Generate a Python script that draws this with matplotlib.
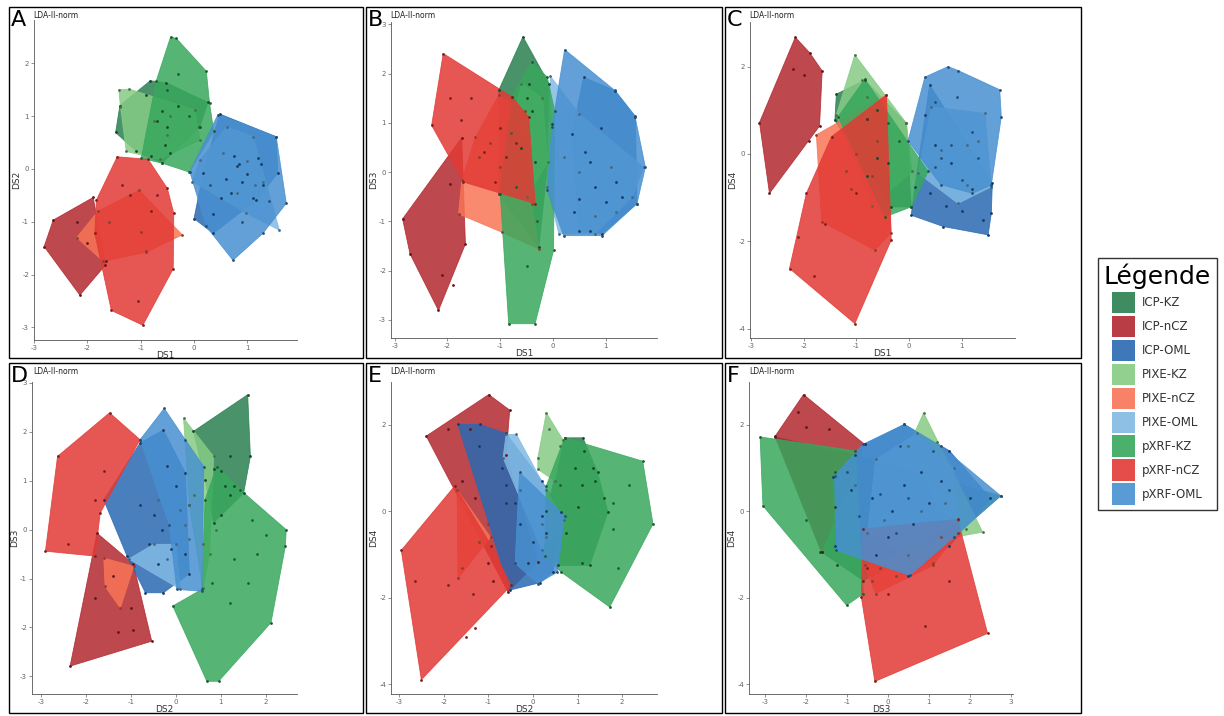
import matplotlib
matplotlib.use("Agg")
import matplotlib.pyplot as plt
from matplotlib.patches import Polygon, Rectangle, Patch
import numpy as np

plt.rcParams['font.family'] = ['DejaVu Sans']
plt.rcParams['axes.unicode_minus'] = False

W, H = 1224, 716

# =====================
# groups / colours
# =====================
groups = ["ICP-KZ", "ICP-nCZ", "ICP-OML", "PIXE-KZ", "PIXE-nCZ", "PIXE-OML",
          "pXRF-KZ", "pXRF-nCZ", "pXRF-OML"]
colors = ["#2A8050", "#B2282F", "#2A69B2", "#86CB84", "#F87456", "#82BAE4",
          "#38A85D", "#E23A35", "#4790D0"]

# =====================
# hull vertices
# =====================
hull_A = {
    "ICP-KZ": [(-0.82, 1.67), (-0.52, 1.63), (0.26, 1.26), (0.11, 0.80), (-0.6, 0.11), (-1.08, 0.33), (-1.47, 0.69), (-1.39, 1.2)],
    "ICP-nCZ": [(-2.81, -1.47), (-2.64, -0.97), (-1.89, -0.54), (-1.66, -1.82), (-2.14, -2.39)],
    "ICP-OML": [(0.48, 1.04), (1.54, 0.61), (1.57, -0.08), (1.17, -0.59), (0.36, -1.22), (0.0, -0.94), (0.17, -0.08)],
    "PIXE-KZ": [(-1.41, 1.5), (-1.21, 1.51), (0.01, 1.12), (0.11, 0.55), (-0.64, 0.18), (-1.27, 0.33), (-1.38, 1.18)],
    "PIXE-nCZ": [(-1.03, -0.40), (-0.22, -1.25), (-0.9, -1.58), (-1.7, -1.75), (-2.2, -1.3), (-1.8, -0.8)],
    "PIXE-OML": [(0.61, 0.8), (1.11, 0.61), (1.6, -1.16), (0.98, -0.84), (-0.03, -0.24), (0.11, 0.17)],
    "pXRF-KZ": [(-0.44, 2.5), (-0.33, 2.47), (0.23, 1.85), (0.29, 1.25), (0.37, 0.71), (-0.09, -0.06), (-0.6, 0.11), (-0.99, 0.2), (-0.71, 1.66)],
    "pXRF-nCZ": [(-1.44, 0.23), (-0.86, 0.18), (-0.5, -0.37), (-0.38, -0.84), (-0.39, -1.89), (-0.96, -2.96), (-1.55, -2.68), (-1.86, -1.22), (-1.83, -0.59)],
    "pXRF-OML": [(0.45, 1.03), (1.54, 0.61), (1.73, -0.65), (1.29, -1.22), (0.73, -1.73), (0.23, -1.09), (-0.08, -0.05)],
}
pts_A = {
    "ICP-KZ": [(-0.9, 1.4), (-0.6, 1.1), (-0.5, 0.8), (-0.7, 0.9), (-0.3, 1.2), (-0.55, 0.45), (-0.45, 0.3), (-0.8, 0.25)],
    "ICP-nCZ": [(-2.2, -1.0), (-2.0, -1.4), (-1.65, -1.75)],
    "ICP-OML": [(0.75, 0.25), (0.85, 0.1), (1.0, -0.1), (0.6, -0.2), (1.2, 0.2), (0.9, -0.25), (1.3, -0.3), (0.5, -0.55), (0.35, -0.85), (0.7, -0.45), (1.1, -0.55), (0.8, 0.05), (1.25, 0.1)],
    "PIXE-KZ": [(-0.45, 1.0), (-0.5, 0.65), (-0.75, 0.9)],
    "PIXE-nCZ": [(-1.0, -1.2), (-0.9, -1.55), (-1.6, -1.0)],
    "PIXE-OML": [(1.0, 0.15), (0.55, 0.3), (1.15, -0.3), (0.8, -0.45), (1.3, -0.25)],
    "pXRF-KZ": [(-0.3, 1.8), (-0.5, 1.5), (-0.1, 1.0), (0.1, 0.8)],
    "pXRF-nCZ": [(-1.35, -0.3), (-1.2, -0.5), (-0.8, -0.8), (-1.05, -2.5), (-0.7, -0.5)],
    "pXRF-OML": [(0.3, -0.3), (1.4, -0.6), (0.9, -1.0)],
}

hull_B = {
    "ICP-KZ": [(-0.57, 2.75), (-0.08, 1.8), (-0.02, 0.98), (-0.27, -1.53), (-1.03, -0.44), (-1.03, 1.66)],
    "ICP-nCZ": [(-2.85, -0.95), (-1.73, 0.70), (-1.66, -1.46), (-2.17, -2.81), (-2.71, -1.66)],
    "ICP-OML": [(0.58, 1.93), (1.18, 1.65), (1.56, 1.12), (1.59, -0.64), (0.93, -1.25), (0.49, -1.19), (0.36, 0.78)],
    "PIXE-KZ": [(-0.6, 1.8), (-0.2, 1.5), (-0.1, 0.2), (-0.5, -0.5), (-0.8, 0.8)],
    "PIXE-nCZ": [(-1.03, 1.56), (-0.53, 1.25), (-0.4, -0.64), (-0.27, -1.56), (-0.97, -1.22), (-1.79, -0.85), (-1.73, -0.17), (-1.47, 0.71)],
    "PIXE-OML": [(-0.05, 1.95), (0.49, 1.19), (1.72, 0.1), (1.5, -0.51), (0.8, -1.25), (0.11, -1.25), (-0.11, -0.31)],
    "pXRF-KZ": [(-0.4, 2.24), (-0.11, 1.93), (0.03, 1.25), (0.01, -1.59), (-0.34, -3.08), (-0.84, -3.08), (-1.0, -0.44), (-0.78, 1.53)],
    "pXRF-nCZ": [(-2.08, 2.41), (-0.78, 1.53), (-0.46, 1.12), (-0.34, -0.64), (-1.7, -0.2), (-2.3, 0.95)],
    "pXRF-OML": [(0.22, 2.49), (1.17, 1.66), (1.55, 1.15), (1.75, 0.1), (1.59, -0.64), (0.93, -1.29), (0.2, -1.29), (-0.11, -0.37), (-0.02, 0.92)],
}
pts_B = {
    "ICP-KZ": [(-0.45, 1.8), (-0.5, 1.5), (-0.4, 1.25), (-0.6, 0.5), (-0.35, 0.2)],
    "ICP-nCZ": [(-1.95, -0.25), (-2.1, -2.1), (-1.9, -2.3)],
    "ICP-OML": [(0.6, 0.4), (0.7, 0.2), (0.8, -0.3), (1.0, -0.6), (0.5, -0.55), (1.2, -0.2), (0.9, 0.9), (0.4, -0.8), (1.3, -0.5), (0.7, -1.2)],
    "PIXE-nCZ": [(-1.2, 0.6), (-0.8, 0.8), (-1.4, 0.3), (-1.0, 0.1)],
    "PIXE-OML": [(1.1, 0.1), (0.5, 0.0), (1.2, -0.8), (0.8, -0.9), (0.2, 0.3)],
    "pXRF-KZ": [(-0.5, -1.9), (-0.3, -1.0), (-0.7, -0.3)],
    "pXRF-nCZ": [(-1.95, 1.5), (-1.55, 1.5), (-1.75, 1.05), (-1.0, 0.9), (-0.7, 0.6), (-1.3, 0.4), (-0.9, 0.3), (-1.1, -0.2)],
}

hull_C = {
    "ICP-KZ": [(-1.38, 1.37), (-0.84, 1.69), (-0.05, 0.7), (0.04, -1.21), (-0.34, -1.21), (-1.41, 0.77)],
    "ICP-nCZ": [(-2.16, 2.67), (-1.89, 2.32), (-1.65, 1.9), (-1.7, 0.64), (-2.65, -0.9), (-2.84, 0.72)],
    "ICP-OML": [(0.39, 1.58), (1.58, -0.67), (1.56, -1.36), (1.5, -1.85), (0.65, -1.66), (0.04, -1.4), (0.11, -0.75)],
    "PIXE-KZ": [(-1.03, 2.27), (-0.05, 0.7), (0.05, -0.4), (-0.7, -1.2), (-1.38, 0.9)],
    "PIXE-nCZ": [(-1.76, 0.44), (-0.43, 1.35), (-0.34, -1.8), (-0.65, -2.2), (-1.66, -1.55)],
    "PIXE-OML": [(0.42, 1.08), (1.44, 0.93), (1.56, -0.75), (0.93, -1.13), (0.17, -0.44)],
    "pXRF-KZ": [(-0.84, 1.71), (0.36, -0.4), (0.04, -1.21), (-0.46, -1.44), (-1.35, 0.85)],
    "pXRF-nCZ": [(-0.43, 1.35), (-0.34, -1.97), (-1.03, -3.88), (-2.27, -2.62), (-1.95, -0.9), (-1.47, 0.4)],
    "pXRF-OML": [(0.3, 1.76), (0.74, 2.0), (0.93, 1.91), (1.72, 1.47), (1.75, 0.85), (1.56, -0.71), (1.2, -0.9), (0.6, -0.7), (-0.02, 0.3)],
}
pts_C = {
    "ICP-KZ": [(-0.8, 0.8), (-0.6, 1.0), (-0.6, -0.1), (-0.4, -0.2), (-0.8, -0.5)],
    "ICP-nCZ": [(-2.2, 1.95), (-2.0, 1.8), (-1.9, 0.3)],
    "ICP-OML": [(0.3, 0.9), (0.5, 0.2), (0.8, -0.2), (1.2, -0.8), (1.0, -1.3), (0.7, -1.2), (1.4, -1.5), (0.4, -0.9)],
    "PIXE-KZ": [(-0.9, 1.7), (-0.8, 1.3)],
    "PIXE-nCZ": [(-1.2, -0.4), (-1.0, 0.0), (-0.7, -0.5), (-0.6, 0.3), (-1.1, -0.8)],
    "PIXE-OML": [(1.1, 0.2), (0.6, 0.1), (1.3, 0.3), (1.1, -0.7)],
    "pXRF-KZ": [(-0.2, 0.3), (-0.4, 0.7)],
    "pXRF-nCZ": [(-1.6, -1.6), (-2.1, -1.9), (-1.8, -2.8), (-1.0, -0.9), (-0.8, 0.8)],
    "pXRF-OML": [(0.5, 1.2), (0.9, 1.3), (1.2, 0.5), (0.8, 0.2), (0.5, -0.3), (1.3, -0.1), (1.0, -0.6), (0.6, -0.1)],
}

hull_D = {
    "ICP-KZ": [(0.39, 2.01), (1.6, 2.76), (1.66, 1.5), (1.51, 0.75), (0.84, 0.14), (0.65, 1.02)],
    "ICP-nCZ": [(-1.76, -0.07), (-0.95, -0.7), (-0.54, -2.28), (-2.36, -2.79)],
    "ICP-OML": [(-0.28, 2.04), (0.21, 1.16), (0.3, -0.9), (-0.28, -1.29), (-0.68, -1.29), (-1.09, -0.54), (-1.61, 0.61), (-0.8, 1.77)],
    "PIXE-KZ": [(0.17, 2.28), (0.84, 1.5), (0.75, -0.5), (0.6, -1.2), (0.3, 0.5)],
    "PIXE-nCZ": [(-1.61, -0.58), (-0.94, -0.75), (-1.24, -1.6), (-1.58, -1.16)],
    "PIXE-OML": [(-1.05, -0.6), (0.1, -1.22), (0.0, -0.3), (-0.5, -0.3)],
    "pXRF-KZ": [(0.91, 1.29), (1.43, 0.82), (2.46, 0.0), (2.44, -0.34), (2.12, -1.9), (0.95, -3.1), (0.69, -3.1), (-0.07, -1.56), (0.58, -1.22), (0.65, 0.61)],
    "pXRF-nCZ": [(-1.48, 2.39), (-0.8, 1.84), (-1.69, 0.34), (-1.8, -0.54), (-2.91, -0.44), (-2.64, 1.5)],
    "pXRF-OML": [(-0.26, 2.48), (0.21, 1.84), (0.62, 1.29), (0.58, -1.26), (0.02, -1.22), (-0.15, 0.1), (-0.8, 1.84)],
}
pts_D = {
    "ICP-KZ": [(1.2, 1.5), (1.0, 1.2), (1.1, 0.9), (1.3, 0.9), (1.2, 0.7), (0.85, 1.25), (1.0, 0.3)],
    "ICP-nCZ": [(-1.4, -0.95), (-1.8, -1.4), (-1.3, -2.1), (-0.95, -2.05), (-1.0, -1.6)],
    "ICP-OML": [(-0.8, 0.5), (-0.5, 0.3), (-0.3, 0.0), (-0.1, -0.4), (0.2, -0.5), (-0.6, -0.3), (0.0, 0.9), (-0.2, 1.3), (0.3, 0.5), (-0.4, -0.7)],
    "PIXE-KZ": [(0.4, 0.7), (0.6, -0.3), (0.9, 0.0)],
    "PIXE-OML": [(0.2, 0.1), (-0.4, 0.6), (0.3, -0.2), (-0.2, -0.6), (0.1, 0.4)],
    "pXRF-KZ": [(1.3, -0.6), (1.8, -0.5), (1.6, -1.1), (1.2, -1.5), (0.8, -1.1), (1.7, 0.2), (2.0, -0.1)],
    "pXRF-nCZ": [(-1.8, 0.6), (-2.4, -0.3), (-1.6, 1.2)],
}

hull_E = {
    "ICP-KZ": [(0.71, 1.7), (1.12, 1.7), (1.45, 0.9), (1.68, -0.02), (1.27, -1.25), (0.56, -1.25), (0.3, 0.0)],
    "ICP-nCZ": [(-0.99, 2.7), (-0.52, 2.34), (-0.6, 1.3), (0.11, -1.17), (-0.56, -1.86), (-2.39, 1.74)],
    "ICP-OML": [(-1.68, 2.01), (-1.19, 2.01), (-0.6, 1.8), (0.2, 0.7), (0.63, -0.02), (0.45, -1.4), (0.15, -1.65), (-0.52, -1.82)],
    "PIXE-KZ": [(0.3, 2.28), (0.67, 1.66), (0.5, 0.7), (0.11, 0.97), (0.11, 1.24)],
    "PIXE-nCZ": [(-1.7, 0.5), (-0.95, -0.6), (-1.68, -1.55)],
    "PIXE-OML": [(-0.6, 1.78), (-0.37, 1.78), (0.3, 0.5), (0.7, -0.2), (0.2, -0.9), (-0.67, 1.24)],
    "pXRF-KZ": [(0.71, 1.7), (2.46, 1.16), (2.69, -0.29), (1.72, -2.21), (0.63, -1.4), (0.26, -1.02), (0.3, 0.59)],
    "pXRF-nCZ": [(-1.75, 0.59), (-0.93, -0.79), (-0.49, -1.71), (-2.5, -3.89), (-2.95, -0.9)],
    "pXRF-OML": [(-0.3, 0.9), (0.71, -0.1), (0.55, -1.4), (0.11, -1.67), (-0.4, -1.2)],
}
pts_E = {
    "ICP-KZ": [(1.15, 1.4), (0.95, 1.0), (1.35, 1.0), (1.4, 0.7), (1.1, 0.6), (1.0, 0.1), (1.6, 0.3), (0.75, -0.5), (1.1, -1.2)],
    "ICP-nCZ": [(-1.9, 1.9), (-1.4, 1.9), (-1.6, 0.7), (-1.3, 0.3), (-1.0, -1.2), (-0.9, -1.6)],
    "ICP-OML": [(-1.2, 1.5), (-0.7, 1.0), (-0.6, 0.6), (-0.4, 0.2), (-0.3, -0.3), (0.0, -0.7), (0.2, -0.1), (-0.6, 0.2), (0.3, -0.5), (-0.1, -1.2)],
    "PIXE-KZ": [(0.35, 1.9), (0.6, 1.5)],
    "PIXE-nCZ": [(-1.6, -1.3), (-1.2, -0.7), (-1.0, -0.3)],
    "PIXE-OML": [(-0.5, 0.1), (0.2, -0.3), (0.3, -0.6), (-0.3, 0.5)],
    "pXRF-KZ": [(2.15, 0.6), (1.8, 0.2), (1.8, -0.4), (1.9, -1.3), (0.6, 0.6)],
    "pXRF-nCZ": [(-2.65, -1.6), (-1.9, -1.7), (-1.35, -1.9), (-1.3, -2.7), (-1.5, -2.9)],
}

hull_F = {
    "ICP-KZ": [(-2.75, 1.72), (-0.8, 1.3), (2.75, 0.36), (1.7, -0.5), (-0.6, -1.6), (-1.62, -0.94)],
    "ICP-nCZ": [(-2.06, 2.7), (-0.57, 1.55), (-1.62, -0.94), (-2.75, 1.74)],
    "ICP-OML": [(-0.57, 1.55), (0.4, 2.01), (1.5, 1.4), (2.5, 0.3), (1.5, -0.8), (0.5, -1.5), (-1.3, -0.8), (-1.35, 0.8)],
    "PIXE-KZ": [(0.87, 2.28), (2.31, -0.48), (1.6, -0.6), (0.5, 1.5)],
    "PIXE-nCZ": [(-0.57, -1.25), (1.7, -0.5), (1.1, -1.25), (-0.3, -1.9)],
    "PIXE-OML": [(-0.3, 1.2), (0.7, 1.8), (1.6, 1.0), (1.7, -0.2), (0.5, -1.0), (-0.5, -0.5)],
    "pXRF-KZ": [(-3.12, 1.72), (-3.05, 0.13), (-1.01, -2.17), (-0.6, -1.9), (-0.8, 1.4)],
    "pXRF-nCZ": [(-0.61, -0.41), (1.7, -0.18), (2.43, -2.82), (-0.32, -3.93), (-0.65, -1.98)],
    "pXRF-OML": [(-0.61, 1.55), (0.4, 2.01), (1.3, 1.5), (2.75, 0.36), (1.6, -0.6), (0.53, -1.48), (-1.26, -0.9), (-1.3, 0.82)],
}
pts_F = {
    "ICP-KZ": [(-1.3, 0.1), (-1.65, -0.95), (-1.25, -1.25), (2.0, 0.3)],
    "ICP-nCZ": [(-2.2, 2.3), (-2.0, 1.95), (-1.45, 1.9)],
    "ICP-OML": [(-0.9, 0.5), (-0.4, 0.3), (0.1, 0.0), (0.4, 0.6), (0.8, 0.9), (1.3, 0.7), (0.6, -0.3), (0.0, -0.6), (-0.3, -1.0), (1.0, 0.2)],
    "PIXE-KZ": [(1.2, 1.6), (1.9, -0.4)],
    "PIXE-nCZ": [(-0.4, -1.6), (0.2, -1.5), (1.1, -1.2), (1.3, -0.6), (-0.2, -1.3)],
    "PIXE-OML": [(-0.8, 0.6), (-0.1, -0.2), (0.8, 0.0), (1.4, 0.2)],
    "pXRF-KZ": [(-2.0, -0.2), (-1.3, 0.9)],
    "pXRF-nCZ": [(0.9, -2.65), (1.5, -1.6), (0.0, -1.9), (-0.5, -1.3)],
    "pXRF-OML": [(-1.0, 0.9), (-0.7, -0.1), (0.3, 1.5), (1.1, 1.4), (0.5, 0.3), (-0.2, 0.4), (1.5, 0.5), (0.2, -0.5)],
}

# =====================
# layout (pixels)
# =====================
# label, hulls, points, axes box (l, t, r, b), xlim, ylim, xticks, yticks, xlabel, ylabel, frame box
panels = [
    ("A", hull_A, pts_A, (34, 20, 297, 340), (-3.0, 1.93), (-3.24, 2.82), [-3, -2, -1, 0, 1], [-3, -2, -1, 0, 1, 2], "DS1", "DS2", (9, 7, 363, 358)),
    ("B", hull_B, pts_B, (391, 22, 657, 338), (-3.07, 1.97), (-3.37, 3.05), [-3, -2, -1, 0, 1], [-3, -2, -1, 0, 1, 2, 3], "DS1", "DS3", (366, 7, 722, 358)),
    ("C", hull_C, pts_C, (750, 22, 1015, 338), (-3.02, 2.01), (-4.21, 3.02), [-3, -2, -1, 0, 1], [-4, -2, 0, 2], "DS1", "DS4", (725, 7, 1081, 358)),
    ("D", hull_D, pts_D, (32, 382, 297, 694), (-3.21, 2.7), (-3.36, 3.02), [-3, -2, -1, 0, 1, 2], [-3, -2, -1, 0, 1, 2, 3], "DS2", "DS3", (9, 363, 363, 713)),
    ("E", hull_E, pts_E, (391, 382, 657, 694), (-3.18, 2.78), (-4.22, 2.99), [-3, -2, -1, 0, 1, 2], [-4, -2, 0, 2], "DS2", "DS4", (366, 363, 722, 713)),
    ("F", hull_F, pts_F, (749, 382, 1013, 694), (-3.39, 3.05), (-4.22, 2.99), [-3, -2, -1, 0, 1, 2, 3], [-4, -2, 0, 2], "DS3", "DS4", (725, 363, 1081, 713)),
]


def fx(px):
    return px / W


def fy(py):
    return 1 - py / H


def darker(c, f=0.55):
    rgb = np.array(matplotlib.colors.to_rgb(c))
    return tuple(rgb * f)


fig = plt.figure(figsize=(W / 100, H / 100), dpi=100)

for lab, hulls, pts, box, xlim, ylim, xt, yt, xl, yl, frame in panels:
    l, t, r, b = box
    ax = fig.add_axes([fx(l), fy(b), (r - l) / W, (b - t) / H])
    for g, c in zip(groups, colors):
        if g in hulls:
            ax.add_patch(Polygon(hulls[g], closed=True, facecolor=c, edgecolor=c,
                                 alpha=0.85, lw=0.6))
    for g, c in zip(groups, colors):
        xy = list(hulls.get(g, [])) + list(pts.get(g, []))
        if xy:
            xy = np.array(xy)
            ax.scatter(xy[:, 0], xy[:, 1], s=4, color=darker(c), zorder=5, lw=0)
    ax.set_xlim(*xlim)
    ax.set_ylim(*ylim)
    ax.set_xticks(xt)
    ax.set_yticks(yt)
    ax.set_xticklabels([str(v) for v in xt])
    ax.set_yticklabels([str(v) for v in yt])
    for s in ["top", "right"]:
        ax.spines[s].set_visible(False)
    for s in ["left", "bottom"]:
        ax.spines[s].set_color("#555555")
        ax.spines[s].set_linewidth(0.6)
    ax.tick_params(labelsize=5, colors="#666666", length=2, width=0.5, pad=1.5)
    ax.set_xlabel(xl, fontsize=6.5, color="#333333", labelpad=0)
    ax.set_ylabel(yl, fontsize=6.5, color="#333333", labelpad=1)

    fl, ft, fr, fb = frame
    fig.add_artist(Rectangle((fx(fl), fy(fb)), (fr - fl) / W, (fb - ft) / H,
                             transform=fig.transFigure, fill=False,
                             edgecolor="black", lw=1.0))
    fig.text(fx(fl + 2), fy(ft + 19), lab, fontsize=16, color="black", va="baseline")
    fig.text(fx(fl + 24), fy(ft + 8), "LDA-II-norm", fontsize=5.5, color="#222222", va="center")

# =====================
# legend
# =====================
handles = [Patch(facecolor=c, edgecolor="none", alpha=0.9) for c in colors]
leg = fig.legend(handles, groups, loc="upper left",
                 bbox_to_anchor=(fx(1098), fy(258)), title="Légende",
                 title_fontsize=18, fontsize=8.5, frameon=True, fancybox=False,
                 edgecolor="black", handlelength=1.95, handleheight=2.4,
                 labelspacing=0.22, borderpad=0.5, handletextpad=0.6,
                 borderaxespad=0)
leg.get_frame().set_linewidth(1.0)
for txt in leg.get_texts():
    txt.set_color("#333333")

fig.savefig("out.png", dpi=100)
